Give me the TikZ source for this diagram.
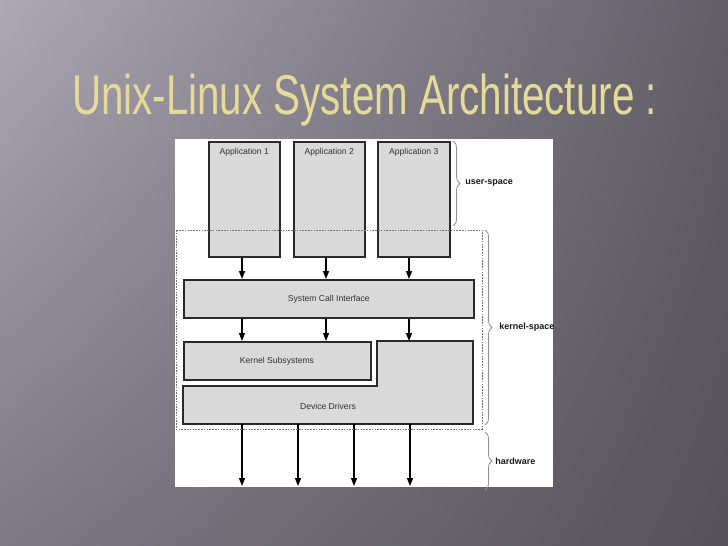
\documentclass[tikz,border=0pt]{standalone}
\usepackage{fontspec}
\setmainfont{Liberation Sans}
\usetikzlibrary{arrows.meta,decorations.pathreplacing,shadings}
\definecolor{boxfill}{HTML}{D9D9D9}
\definecolor{boxline}{HTML}{2A2A2A}
\definecolor{titlegold}{HTML}{E6DA98}
\definecolor{bracegray}{HTML}{909090}
\definecolor{bgul}{HTML}{ACA8B4}
\definecolor{bgur}{HTML}{625E68}
\definecolor{bgll}{HTML}{7E7984}
\definecolor{bglr}{HTML}{56525A}
\tikzset{
  box/.style={draw=boxline, line width=1.6pt, fill=boxfill, inner sep=0pt, anchor=north west},
  boxtext/.style={font=\fontsize{8.6}{10}\selectfont, text=black!80},
  arr/.style={-{Triangle[length=8pt,width=6pt]}, line width=1.4pt, black},
  dashbox/.style={draw=black!55, line width=0.7pt, dash pattern=on 1.6pt off 1.2pt},
  bracestyle/.style={draw=bracegray, line width=0.8pt, decorate, decoration={brace, amplitude=7pt}},
  sidelabel/.style={font=\bfseries\fontsize{9}{10}\selectfont, anchor=west, inner sep=0pt, text=black!90}
}
\begin{document}
\begin{tikzpicture}[x=1pt,y=-1pt]
\useasboundingbox (0,0) rectangle (728,546);
% background
\shade[upper left=bgul, upper right=bgur, lower left=bgll, lower right=bglr]
  (0,0) rectangle (728,546);
% title
\node[text=titlegold, font=\fontsize{56}{56}\selectfont] (title) at (364.5,100) {\scalebox{0.72}[1]{Unix-Linux System Architecture :}};
% white panel
\fill[white] (175,139) rectangle (553,487);
% applications
\node[box, minimum width=71pt, minimum height=115pt, label={[boxtext,anchor=north,yshift=-4pt]north:Application 1}] (a1) at (208,141) {};
\node[box, minimum width=71pt, minimum height=115pt, label={[boxtext,anchor=north,yshift=-4pt]north:Application 2}] (a2) at (293,141) {};
\node[box, minimum width=72pt, minimum height=115pt, label={[boxtext,anchor=north,yshift=-4pt]north:Application 3}] (a3) at (377,141) {};
% system call interface
\node[box, minimum width=290pt, minimum height=38pt] (sci) at (183,279) {};
\node[boxtext] (scitext) at (sci.center) {System Call Interface};
% kernel subsystems
\node[box, minimum width=187pt, minimum height=38pt] (ks) at (183,341) {};
\node[boxtext] (kstext) at (277,361) {Kernel Subsystems};
% device drivers (L-shape)
\draw[draw=boxline, line width=1.6pt, fill=boxfill] (183,386) -- (377,386) -- (377,341) -- (473,341) -- (473,424) -- (183,424) -- cycle;
\node[boxtext] (dd) at (328,406) {Device Drivers};
% arrow columns
\coordinate (c1) at (242,0);
\coordinate (c2) at (326,0);
\coordinate (c3) at (409,0);
% arrows apps -> sci
\foreach \i in {1,2,3}{ \draw[arr] (c\i |- a\i.south) -- (c\i |- sci.north); }
% arrows sci -> kernel
\foreach \i in {1,2,3}{ \draw[arr] (c\i |- sci.south) -- (c\i |- ks.north); }
% arrows to hardware
\foreach \xx [count=\k] in {242,298,354,410}{
  \coordinate (hws\k) at (\xx,424);
  \coordinate (hw\k) at (\xx,486);
  \draw[arr] (hws\k) -- (hw\k);
}
% dashed kernel box
\draw[dashbox] (176,230) rectangle (482,429);
% braces
\draw[bracestyle] (453,141) -- (453,226) node[midway, xshift=12pt, sidelabel] (us) {user-space};
\draw[bracestyle] (485,230) -- (485,425) node[midway, xshift=14pt, sidelabel] (ksp) {kernel-space};
\draw[bracestyle] (485,432) -- (485,490) node[midway, xshift=10pt, sidelabel] (hwl) {hardware};
\end{tikzpicture}
\end{document}
